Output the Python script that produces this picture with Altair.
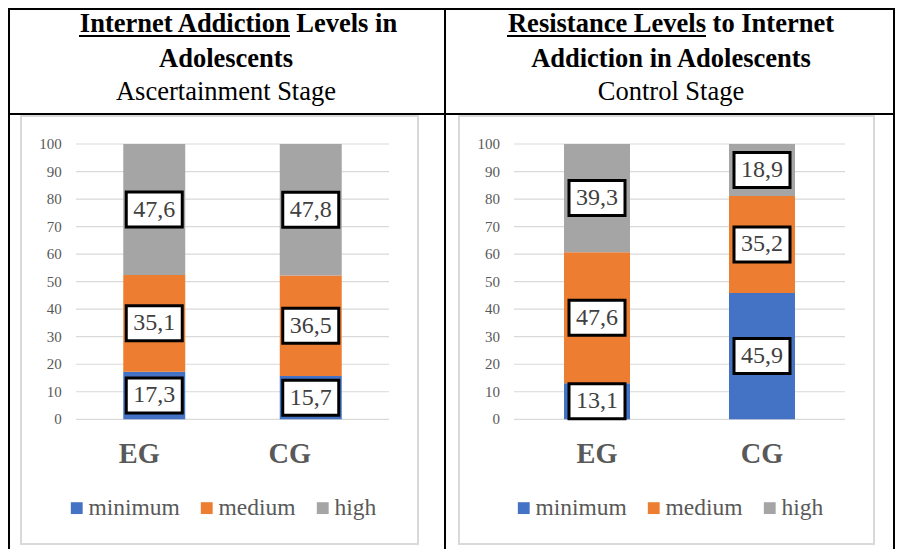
import altair as alt
import pandas as pd

# ---------------- data ----------------
levels = ["minimum", "medium", "high"]
groups = ["EG", "CG"]
ascertain_EG = [17.3, 35.1, 47.6]
ascertain_CG = [15.7, 36.5, 47.8]
control_EG = [13.1, 47.6, 39.3]
control_CG = [45.9, 35.2, 18.9]
level_colors = ["#4472C4", "#ED7D31", "#A5A5A5"]
y_ticks = [0, 10, 20, 30, 40, 50, 60, 70, 80, 90, 100]
left_title = ["Internet Addiction Levels in", "Adolescents", "Ascertainment Stage"]
right_title = ["Resistance Levels to Internet", "Addiction in Adolescents", "Control Stage"]

FONT = "Liberation Serif"
BOX = "M-1,-0.625L1,-0.625L1,0.625L-1,0.625Z"


def panel_frame(eg_vals, cg_vals):
    rows = []
    for g, vals in zip(groups, [eg_vals, cg_vals]):
        cum = 0.0
        for i, (lvl, v) in enumerate(zip(levels, vals)):
            rows.append({
                "group": g, "level": lvl, "value": v, "ord": i,
                "mid": cum + v / 2.0,
                "label": f"{v:.1f}".replace(".", ","),
            })
            cum += v
    return pd.DataFrame(rows)


Y_SCALE = alt.Scale(domain=[0, 100], range=[411.3, 136], nice=False, zero=True)
one = pd.DataFrame({"d": [0]})


def panel(df, x_range, p_in, p_out, legend_x, label_dx, gx0, gx1, ylab_x):
    xs = alt.Scale(domain=groups, range=x_range, paddingInner=p_in, paddingOuter=p_out)
    X = alt.X("group:N", scale=xs, axis=None, sort=groups)
    base = alt.Chart(df)
    grid = alt.Chart(pd.DataFrame({"tick": y_ticks})).mark_rule(
        color="#D9D9D9", strokeWidth=1.2
    ).encode(
        y=alt.Y("tick:Q", scale=Y_SCALE, axis=None),
        x=alt.value(gx0), x2=alt.value(gx1),
    )
    ylabels = alt.Chart(pd.DataFrame({"tick": y_ticks})).mark_text(
        align="right", baseline="middle", font=FONT, fontSize=15, color="#595959"
    ).encode(
        y=alt.Y("tick:Q", scale=Y_SCALE, axis=None),
        x=alt.value(ylab_x), text="tick:Q",
    )
    bars = base.mark_bar().encode(
        x=X,
        y=alt.Y("value:Q", stack="zero", scale=Y_SCALE, axis=None),
        color=alt.Color(
            "level:N",
            scale=alt.Scale(domain=levels, range=level_colors),
            legend=alt.Legend(
                orient="none", legendX=legend_x, legendY=488, direction="horizontal",
                title=None, symbolType="square", symbolSize=140, symbolStrokeWidth=0,
                labelFont=FONT, labelFontSize=23.5, labelColor="#595959",
                columnPadding=15, labelOffset=0,
            ),
        ),
        order=alt.Order("ord:Q", sort="ascending"),
    )
    boxes = base.mark_point(
        shape=BOX, size=3136, filled=True, fill="white", stroke="black",
        strokeWidth=3, opacity=1, fillOpacity=1, strokeOpacity=1,
    ).encode(x=X, y=alt.Y("mid:Q", scale=Y_SCALE, axis=None))
    texts = base.mark_text(
        font=FONT, fontSize=24, color="#404040", baseline="middle"
    ).encode(x=X, y=alt.Y("mid:Q", scale=Y_SCALE, axis=None), text="label:N")
    xl = []
    for g, dx in zip(groups, label_dx):
        xl.append(
            alt.Chart(pd.DataFrame({"group": groups})).transform_filter(
                alt.datum.group == g
            ).mark_text(
                font=FONT, fontSize=28.4, fontWeight="bold", color="#595959",
                baseline="alphabetic", dx=dx,
            ).encode(x=X, y=alt.value(455.3), text="group:N")
        )
    return alt.layer(grid, ylabels, bars, boxes, texts, *xl)


left = panel(panel_frame(ascertain_EG, ascertain_CG), [68, 381], 0.604, 0.302,
             57, [-15, -21], 68, 381, 53.7)
right = panel(panel_frame(control_EG, control_CG), [506, 837], 0.6, 0.303,
              504, [0, 0], 506, 837, 492)


def text_line(t, cx, by, bold):
    return alt.Chart(pd.DataFrame({"t": [t]})).mark_text(
        font=FONT, fontSize=26.5, fontWeight="bold" if bold else "normal",
        color="black", align="center", baseline="alphabetic",
    ).encode(x=alt.value(cx), y=alt.value(by), text="t:N")


def hrule(x0, x1, y, color="black", w=2):
    return alt.Chart(one).mark_rule(color=color, strokeWidth=w).encode(
        x=alt.value(x0), x2=alt.value(x1), y=alt.value(y))


def vrule(x, y0, y1, color="black", w=2):
    return alt.Chart(one).mark_rule(color=color, strokeWidth=w).encode(
        x=alt.value(x), y=alt.value(y0), y2=alt.value(y1))


def frame(x0, x1, y0, y1):
    return alt.Chart(one).mark_rect(
        fillOpacity=0, stroke="#D9D9D9", strokeWidth=2
    ).encode(x=alt.value(x0), x2=alt.value(x1), y=alt.value(y0), y2=alt.value(y1))


decor = [
    # table borders
    hrule(0, 887, 1), hrule(0, 887, 106),
    vrule(1, 0, 541), vrule(437, 0, 541), vrule(886, 0, 541),
    # chart-area frames
    frame(13, 410, 108, 536), frame(451, 866, 108, 536),
    # headers
    text_line(left_title[0], 230.5, 23.7, True),
    text_line(left_title[1], 218, 58.7, True),
    text_line(left_title[2], 218, 92, False),
    text_line(right_title[0], 663, 23.7, True),
    text_line(right_title[1], 663, 58.7, True),
    text_line(right_title[2], 663, 92, False),
    hrule(71, 282, 28, w=1.8), hrule(499, 698, 28, w=1.8),
]

chart = alt.layer(*decor, left, right).resolve_scale(
    x="independent", color="independent"
).resolve_legend(color="independent").properties(
    width=887, height=541, padding=0,
    autosize=alt.AutoSizeParams(type="none"),
).configure_view(stroke=None)

chart.save("out.html", embed_options={"renderer": "svg", "actions": False})
